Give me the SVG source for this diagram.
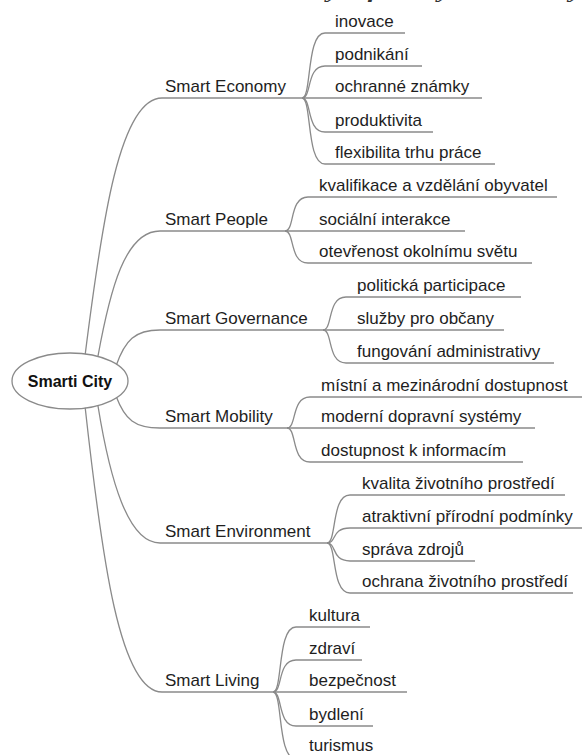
<svg xmlns="http://www.w3.org/2000/svg" width="582" height="755" viewBox="0 0 582 755">
<style>
.c{fill:none;stroke:#8a8a8a;stroke-width:1.3}
.t{font-family:"Liberation Sans",Arial,sans-serif;font-size:17px;fill:#1e1e1e}
.r{font-family:"Liberation Sans",Arial,sans-serif;font-size:16px;font-weight:bold;fill:#111;text-anchor:middle}
.cap{font-family:"Liberation Serif","Times New Roman",serif;font-size:18px;font-style:italic;font-weight:bold;fill:#333}
</style>
<rect width="582" height="755" fill="#fff"/>
<text class="cap" x="0" y="-2" textLength="582" lengthAdjust="spacingAndGlyphs">Obr. 1 Hlavní charakteristiky a faktory Smart City</text>
<g id="connectors">
<path class="c" d="M85,356 C102,220 120,98 162,98 H302"/>
<path class="c" d="M98,356 C110,290 125,231 160,231 H285"/>
<path class="c" d="M116,366 C125,340 135,330 160,330 H323"/>
<path class="c" d="M116,396 C125,420 135,428 160,428 H287"/>
<path class="c" d="M98,406 C110,480 128,543 160,543 H327"/>
<path class="c" d="M85,406 C102,560 120,692 162,692 H273"/>
<path class="c" d="M302,98 C312,98 306,33 325,33 H405"/>
<path class="c" d="M302,98 C312,98 306,66 325,66 H422"/>
<path class="c" d="M302,98 H482"/>
<path class="c" d="M302,98 C312,98 306,132 325,132 H433"/>
<path class="c" d="M302,98 C312,98 306,164 325,164 H495"/>
<path class="c" d="M285,231 C295,231 289,197 308,197 H557"/>
<path class="c" d="M285,231 H465"/>
<path class="c" d="M285,231 C295,231 289,263 308,263 H532"/>
<path class="c" d="M323,330 C333,330 327,297 346,297 H521"/>
<path class="c" d="M323,330 H504"/>
<path class="c" d="M323,330 C333,330 327,363 346,363 H554"/>
<path class="c" d="M287,428 C297,428 291,397 310,397 H582"/>
<path class="c" d="M287,428 H535"/>
<path class="c" d="M287,428 C297,428 291,462 310,462 H523"/>
<path class="c" d="M327,543 C337,543 331,495 350,495 H565"/>
<path class="c" d="M327,543 C337,543 331,528 350,528 H582"/>
<path class="c" d="M327,543 C337,543 331,561 350,561 H475"/>
<path class="c" d="M327,543 C337,543 331,593 350,593 H573"/>
<path class="c" d="M273,692 C283,692 277,627 296,627 H370"/>
<path class="c" d="M273,692 C283,692 277,660 296,660 H362"/>
<path class="c" d="M273,692 H407"/>
<path class="c" d="M273,692 C283,692 277,726 296,726 H373"/>
<path class="c" d="M273,692 C283,692 277,759 296,759 H380"/>
</g>
<g id="root"><ellipse cx="70" cy="381" rx="58" ry="28" fill="#fff" stroke="#8a8a8a" stroke-width="1.3"/><text class="r" x="70" y="387">Smarti City</text></g>
<g id="economy"><text class="t" x="165" y="92">Smart Economy</text></g>
<g id="people"><text class="t" x="165" y="225">Smart People</text></g>
<g id="governance"><text class="t" x="165" y="324">Smart Governance</text></g>
<g id="mobility"><text class="t" x="165" y="422">Smart Mobility</text></g>
<g id="environment"><text class="t" x="165" y="537">Smart Environment</text></g>
<g id="living"><text class="t" x="165" y="686">Smart Living</text></g>
<g id="e1"><text class="t" x="335" y="27">inovace</text></g>
<g id="e2"><text class="t" x="335" y="60">podnikání</text></g>
<g id="e3"><text class="t" x="335" y="92">ochranné známky</text></g>
<g id="e4"><text class="t" x="335" y="126">produktivita</text></g>
<g id="e5"><text class="t" x="335" y="158">flexibilita trhu práce</text></g>
<g id="p1"><text class="t" x="319" y="191">kvalifikace a vzdělání obyvatel</text></g>
<g id="p2"><text class="t" x="319" y="225">sociální interakce</text></g>
<g id="p3"><text class="t" x="319" y="257">otevřenost okolnímu světu</text></g>
<g id="g1"><text class="t" x="357" y="291">politická participace</text></g>
<g id="g2"><text class="t" x="357" y="324">služby pro občany</text></g>
<g id="g3"><text class="t" x="357" y="357">fungování administrativy</text></g>
<g id="m1"><text class="t" x="321" y="391">místní a mezinárodní dostupnost</text></g>
<g id="m2"><text class="t" x="321" y="422">moderní dopravní systémy</text></g>
<g id="m3"><text class="t" x="321" y="456">dostupnost k informacím</text></g>
<g id="v1"><text class="t" x="362" y="489">kvalita životního prostředí</text></g>
<g id="v2"><text class="t" x="362" y="522">atraktivní přírodní podmínky</text></g>
<g id="v3"><text class="t" x="362" y="555">správa zdrojů</text></g>
<g id="v4"><text class="t" x="362" y="587">ochrana životního prostředí</text></g>
<g id="l1"><text class="t" x="309" y="621">kultura</text></g>
<g id="l2"><text class="t" x="309" y="654">zdraví</text></g>
<g id="l3"><text class="t" x="309" y="686">bezpečnost</text></g>
<g id="l4"><text class="t" x="309" y="720">bydlení</text></g>
<g id="l5"><text class="t" x="309" y="751">turismus</text></g>
</svg>
